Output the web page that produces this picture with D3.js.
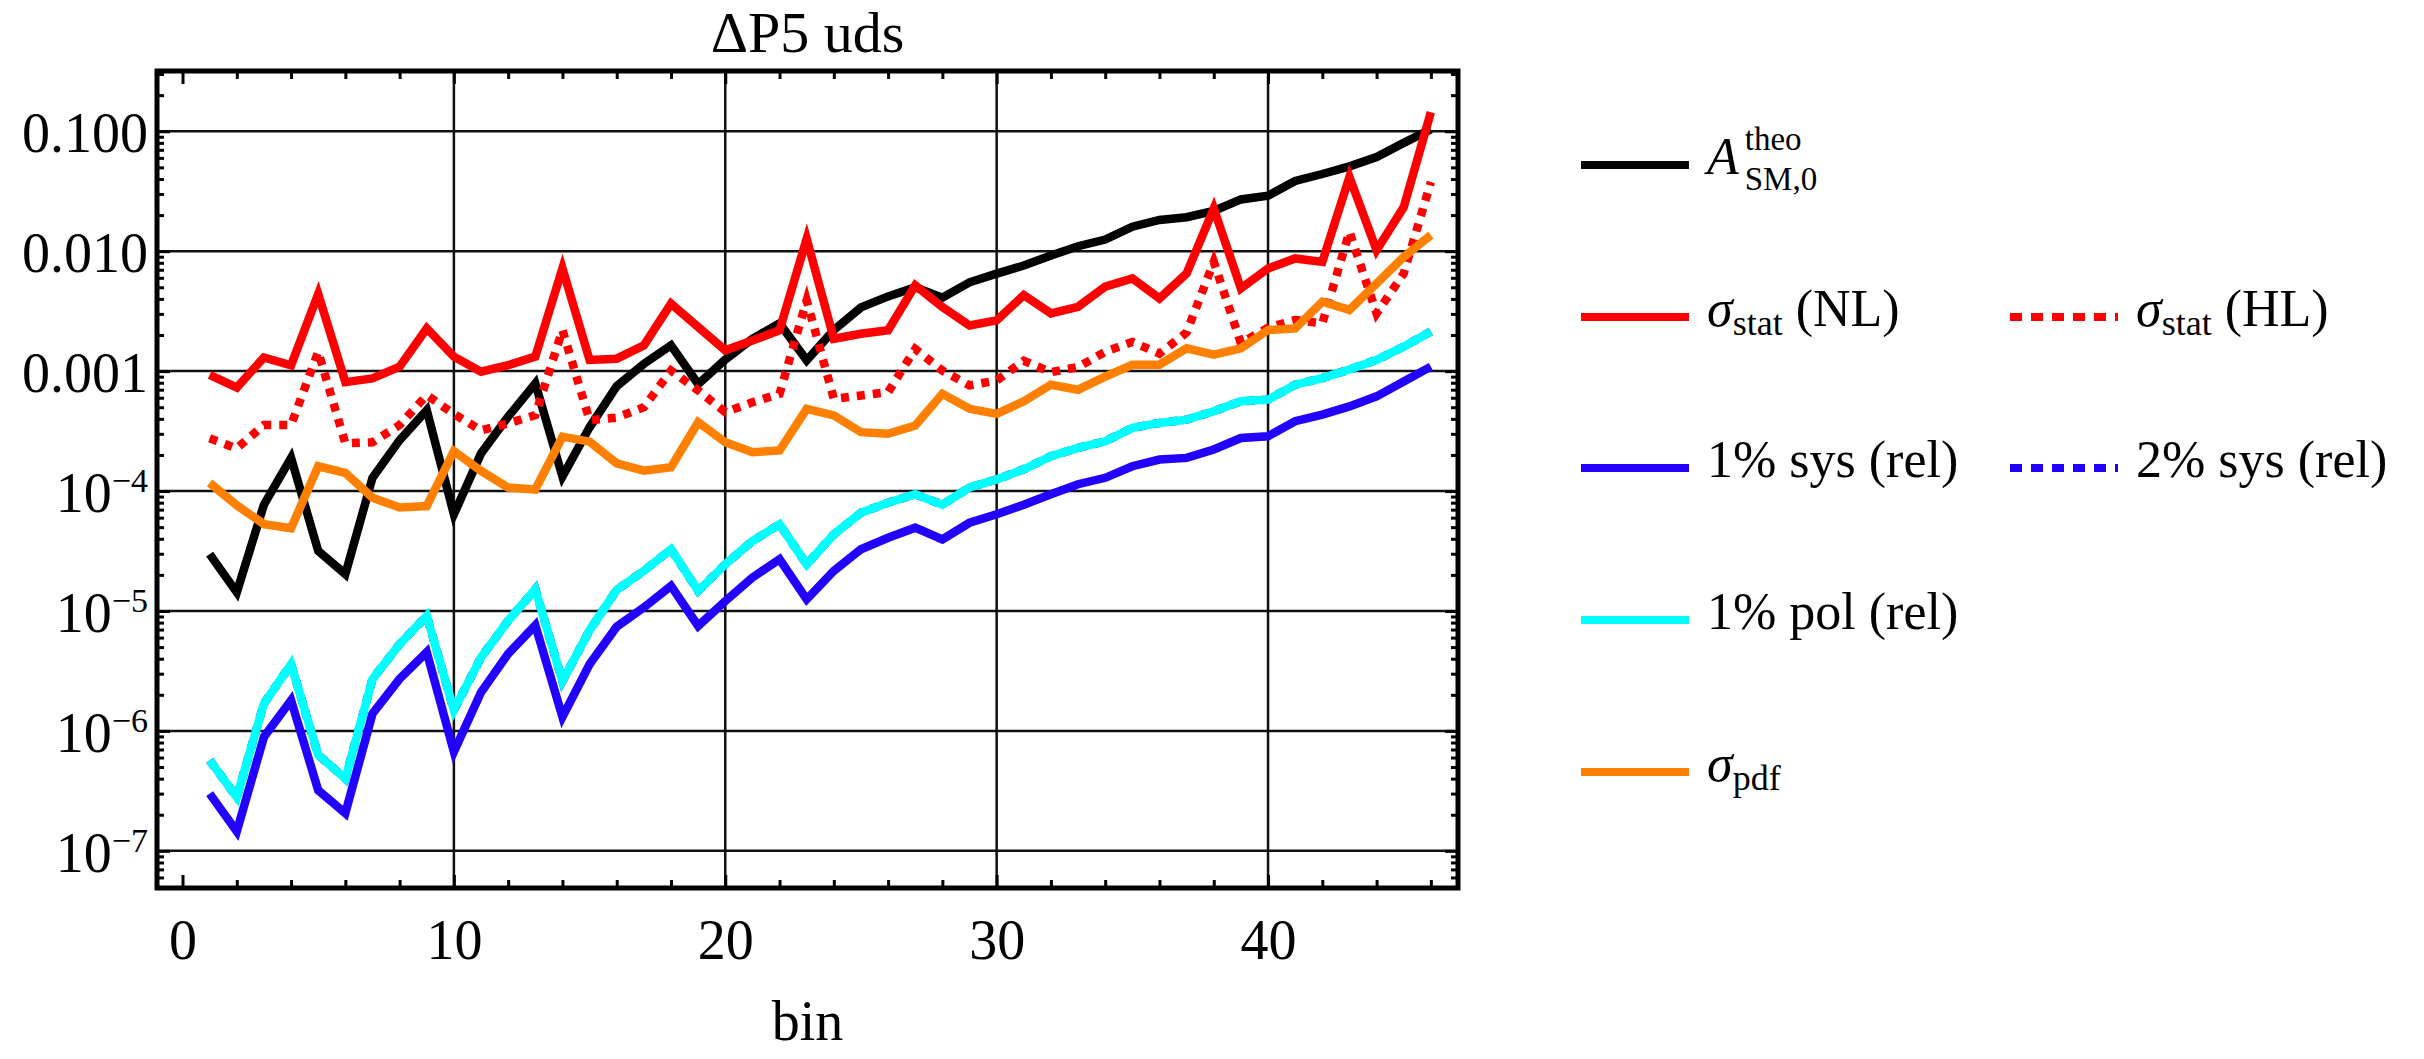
<!DOCTYPE html>
<html>
<head>
<meta charset="utf-8">
<script src="https://cdn.jsdelivr.net/npm/d3@7/dist/d3.min.js"></script>
<style>
  body { margin: 0; background: #fff; }
  svg, text { font-family: "Liberation Serif", "DejaVu Serif", "Times New Roman", serif; fill: #000; }
</style>
</head>
<body>
<script>
////////////
/// DATA ///
////////////

var bins = [1, 2, 3, 4, 5, 6, 7, 8, 9, 10, 11, 12, 13, 14, 15, 16, 17, 18, 19, 20, 21, 22, 23,
            24, 25, 26, 27, 28, 29, 30, 31, 32, 33, 34, 35, 36, 37, 38, 39, 40, 41, 42, 43, 44, 45, 46];

// A^theo_SM,0
var aTheo = [2.98e-5, 1.43e-5, 7.7e-5, 1.89e-4, 3.17e-5, 2.03e-5, 1.29e-4, 2.66e-4, 4.73e-4, 6.4e-5,
             2.06e-4, 4.17e-4, 7.9e-4, 1.32e-4, 3.4e-4, 7.5e-4, 1.15e-3, 1.64e-3, 7.8e-4, 1.25e-3,
             1.86e-3, 2.5e-3, 1.23e-3, 2.2e-3, 3.4e-3, 4.2e-3, 5.0e-3, 4.1e-3, 5.5e-3, 6.5e-3,
             7.6e-3, 9.2e-3, 1.1e-2, 1.25e-2, 1.6e-2, 1.82e-2, 1.92e-2, 2.17e-2, 2.7e-2, 2.9e-2,
             3.85e-2, 4.4e-2, 5.1e-2, 6.1e-2, 8.0e-2, 0.104];

// sigma_stat (NL)
var statNL = [9.3e-4, 7.3e-4, 1.3e-3, 1.12e-3, 4.4e-3, 8.1e-4, 8.7e-4, 1.09e-3, 2.27e-3, 1.32e-3,
              9.9e-4, 1.12e-3, 1.32e-3, 7.2e-3, 1.24e-3, 1.27e-3, 1.64e-3, 3.65e-3, 2.33e-3, 1.49e-3,
              1.8e-3, 2.19e-3, 1.27e-2, 1.86e-3, 2.05e-3, 2.19e-3, 5.19e-3, 3.42e-3, 2.4e-3, 2.65e-3,
              4.3e-3, 3.03e-3, 3.44e-3, 5.06e-3, 5.93e-3, 4.04e-3, 6.52e-3, 2.27e-2, 4.9e-3, 7.18e-3,
              8.7e-3, 8.15e-3, 4.15e-2, 1.02e-2, 2.33e-2, 0.144];

// sigma_stat (HL)
var statHL = [2.75e-4, 2.27e-4, 3.55e-4, 3.55e-4, 1.45e-3, 2.5e-4, 2.55e-4, 3.55e-4, 6.3e-4, 4.4e-4,
              3.2e-4, 3.66e-4, 4.3e-4, 2.2e-3, 3.9e-4, 4.1e-4, 5.0e-4, 1.01e-3, 6.9e-4, 4.55e-4,
              5.5e-4, 6.46e-4, 3.89e-3, 5.87e-4, 6.27e-4, 6.68e-4, 1.53e-3, 1.01e-3, 7.6e-4, 8.35e-4,
              1.22e-3, 9.8e-4, 1.08e-3, 1.45e-3, 1.75e-3, 1.4e-3, 2.1e-3, 8.15e-3, 1.71e-3, 2.3e-3,
              2.67e-3, 2.5e-3, 1.45e-2, 3.03e-3, 6.52e-3, 3.77e-2];

// 1% sys (rel)
var sys1 = [3.0e-7, 1.45e-7, 8.9e-7, 1.8e-6, 3.2e-7, 2.06e-7, 1.39e-6, 2.72e-6, 4.54e-6, 6.7e-7,
            2.1e-6, 4.4e-6, 7.6e-6, 1.31e-6, 3.6e-6, 7.4e-6, 1.07e-5, 1.62e-5, 7.5e-6, 1.21e-5,
            1.9e-5, 2.7e-5, 1.25e-5, 2.16e-5, 3.27e-5, 4.08e-5, 4.95e-5, 3.95e-5, 5.44e-5, 6.4e-5,
            7.7e-5, 9.4e-5, 1.14e-4, 1.29e-4, 1.61e-4, 1.83e-4, 1.89e-4, 2.22e-4, 2.77e-4, 2.86e-4,
            3.82e-4, 4.34e-4, 5.08e-4, 6.16e-4, 8.2e-4, 1.09e-3];

// 1% pol (rel)
var pol1 = [5.7e-7, 2.8e-7, 1.69e-6, 3.6e-6, 6.3e-7, 4.0e-7, 2.7e-6, 5.3e-6, 9.1e-6, 1.49e-6,
            4.1e-6, 8.3e-6, 1.52e-5, 2.6e-6, 6.9e-6, 1.5e-5, 2.16e-5, 3.27e-5, 1.47e-5, 2.45e-5,
            3.83e-5, 5.28e-5, 2.45e-5, 4.35e-5, 6.59e-5, 8.0e-5, 9.4e-5, 7.7e-5, 1.07e-4, 1.25e-4,
            1.52e-4, 1.95e-4, 2.29e-4, 2.6e-4, 3.36e-4, 3.7e-4, 3.94e-4, 4.62e-4, 5.6e-4, 5.78e-4,
            7.7e-4, 8.74e-4, 1.03e-3, 1.24e-3, 1.6e-3, 2.14e-3];

// 2% sys (rel) -- lies exactly under the 1% pol curve
var sys2 = pol1;

// sigma_pdf
var pdf = [1.17e-4, 7.6e-5, 5.3e-5, 4.9e-5, 1.61e-4, 1.42e-4, 8.8e-5, 7.3e-5, 7.5e-5, 2.15e-4,
           1.47e-4, 1.07e-4, 1.03e-4, 2.84e-4, 2.58e-4, 1.7e-4, 1.48e-4, 1.58e-4, 3.75e-4, 2.55e-4,
           2.11e-4, 2.18e-4, 4.85e-4, 4.27e-4, 3.1e-4, 3.0e-4, 3.52e-4, 6.47e-4, 4.85e-4, 4.4e-4,
           5.6e-4, 7.7e-4, 7.0e-4, 9.0e-4, 1.13e-3, 1.13e-3, 1.55e-3, 1.37e-3, 1.55e-3, 2.2e-3,
           2.27e-3, 3.79e-3, 3.24e-3, 5.38e-3, 8.97e-3, 1.36e-2];

// ticks
var xMajorTicks = [0, 10, 20, 30, 40];
var xTickLabels = ["0", "10", "20", "30", "40"];
var yMajorTicks = [1e-7, 1e-6, 1e-5, 1e-4, 1e-3, 1e-2, 1e-1];
var yTickMantissa = ["10", "10", "10", "10", "0.001", "0.010", "0.100"];
var yTickExponent = ["\u22127", "\u22126", "\u22125", "\u22124", "", "", ""];

var titleText = "\u0394P5 uds";
var xLabelText = "bin";

/////////////////
/// SETUP VIZ ///
/////////////////

var W = 2424, H = 1059;
var box = {left: 157, right: 1458, top: 71, bottom: 888};
var serif = "'Liberation Serif', 'DejaVu Serif', serif";

var x = d3.scaleLinear().domain([-0.94, 47.0]).range([box.left, box.right]),
    y = d3.scaleLog().domain([4.9e-8, 0.318]).range([box.bottom, box.top]);

// series order = drawing order
var series = [
  {key: "aTheo",  values: aTheo,  color: "#000000", dash: null},
  {key: "statNL", values: statNL, color: "#ff0000", dash: null},
  {key: "statHL", values: statHL, color: "#ff0000", dash: "8,8"},
  {key: "sys1",   values: sys1,   color: "#2200ff", dash: null},
  {key: "sys2",   values: sys2,   color: "#2200ff", dash: "8,8"},
  {key: "pol1",   values: pol1,   color: "#00ffff", dash: null},
  {key: "pdf",    values: pdf,    color: "#ff8000", dash: null}
];

var svg = d3.select("body")
    .append("svg")
    .attr("width", W)
    .attr("height", H)
    .attr("font-family", serif);

svg.append("defs").append("clipPath")
    .attr("id", "plotClip")
    .append("rect")
    .attr("x", box.left)
    .attr("y", box.top)
    .attr("width", box.right - box.left)
    .attr("height", box.bottom - box.top);

// grid lines
var grid = svg.append("g").attr("id", "grid");

grid.selectAll(".hgrid")
    .data(yMajorTicks)
    .enter().append("line")
    .attr("class", "hgrid")
    .attr("x1", box.left).attr("x2", box.right)
    .attr("y1", function(d) { return y(d); })
    .attr("y2", function(d) { return y(d); })
    .attr("stroke", "#111")
    .attr("stroke-width", 2.5);

grid.selectAll(".vgrid")
    .data(xMajorTicks.filter(function(d) { return d > 0; }))
    .enter().append("line")
    .attr("class", "vgrid")
    .attr("y1", box.top).attr("y2", box.bottom)
    .attr("x1", function(d) { return x(d); })
    .attr("x2", function(d) { return x(d); })
    .attr("stroke", "#111")
    .attr("stroke-width", 2.5);

// lines
var line = d3.line()
    .x(function(d, i) { return x(bins[i]); })
    .y(function(d) { return y(d); });

svg.append("g")
    .attr("clip-path", "url(#plotClip)")
    .selectAll(".series")
    .data(series)
    .enter().append("path")
    .attr("class", "series")
    .attr("fill", "none")
    .attr("stroke", function(d) { return d.color; })
    .attr("stroke-width", 8.5)
    .attr("stroke-dasharray", function(d) { return d.dash; })
    .attr("d", function(d) { return line(d.values); });

// ticks (inward on all four sides)
var xMinor = [];
for (var t = 2; t <= 46; t += 2) { if (t % 10 !== 0) xMinor.push(t); }
var yMinor = [];
for (var e = -8; e <= 0; e++) {
  for (var m = 2; m <= 9; m++) {
    var v = m * Math.pow(10, e);
    if (v > y.domain()[0] && v < y.domain()[1]) yMinor.push(v);
  }
}

function tickGroup(axis, tx, ty) {
  var g = svg.append("g")
      .attr("transform", "translate(" + tx + "," + ty + ")")
      .call(axis)
      .attr("font-family", serif);
  g.select(".domain").remove();
  g.selectAll("line").attr("stroke", "#000").attr("stroke-width", 3);
  return g;
}

tickGroup(d3.axisBottom(x).tickValues(xMinor).tickSize(-8).tickFormat(""), 0, box.bottom);
tickGroup(d3.axisTop(x).tickValues(xMinor).tickSize(-8).tickFormat(""), 0, box.top);
tickGroup(d3.axisTop(x).tickValues(xMajorTicks).tickSize(-13).tickFormat(""), 0, box.top);
tickGroup(d3.axisLeft(y).tickValues(yMinor).tickSize(-7).tickFormat(""), box.left, 0);
tickGroup(d3.axisRight(y).tickValues(yMinor).tickSize(-7).tickFormat(""), box.right, 0);
tickGroup(d3.axisLeft(y).tickValues(yMajorTicks).tickSize(-13).tickFormat(""), box.left, 0);
tickGroup(d3.axisRight(y).tickValues(yMajorTicks).tickSize(-13).tickFormat(""), box.right, 0);

var xAxisG = tickGroup(d3.axisBottom(x).tickValues(xMajorTicks).tickSize(-13)
    .tickFormat(function(d, i) { return xTickLabels[i]; }), 0, box.bottom);
xAxisG.selectAll("text")
    .attr("y", 71)
    .attr("dy", null)
    .style("font-family", serif)
    .style("font-size", "56px")
    .attr("fill", "#000");

// y tick labels with powers of ten
var yLabels = svg.append("g").attr("id", "yLabels");
yMajorTicks.forEach(function(v, i) {
  var txt = yLabels.append("text")
      .attr("x", 148)
      .attr("y", y(v) + 21)
      .attr("text-anchor", "end")
      .style("font-size", "56px");
  txt.append("tspan").text(yTickMantissa[i]);
  if (yTickExponent[i]) {
    txt.append("tspan")
        .attr("dy", -20)
        .style("font-size", "34px")
        .text(yTickExponent[i]);
  }
});

// frame
svg.append("rect")
    .attr("x", box.left)
    .attr("y", box.top)
    .attr("width", box.right - box.left)
    .attr("height", box.bottom - box.top)
    .attr("fill", "none")
    .attr("stroke", "#000")
    .attr("stroke-width", 5);

// title and axis label
svg.append("text")
    .attr("x", (box.left + box.right) / 2)
    .attr("y", 52)
    .attr("text-anchor", "middle")
    .style("font-size", "58px")
    .text(titleText);

svg.append("text")
    .attr("x", (box.left + box.right) / 2)
    .attr("y", 1040)
    .attr("text-anchor", "middle")
    .style("font-size", "56px")
    .text(xLabelText);

//////////////
/// LEGEND ///
//////////////

var legendRows = [165, 317, 468, 620, 772],
    legendCols = [1581, 2010],
    legendLineLen = 108,
    legendGap = 18;

var legendItems = [
  {key: "aTheo",  row: 0, col: 0},
  {key: "statNL", row: 1, col: 0},
  {key: "statHL", row: 1, col: 1},
  {key: "sys1",   row: 2, col: 0},
  {key: "sys2",   row: 2, col: 1},
  {key: "pol1",   row: 3, col: 0},
  {key: "pdf",    row: 4, col: 0}
];

var styleOf = {};
series.forEach(function(s) { styleOf[s.key] = s; });

var legend = svg.append("g").attr("id", "legend");

legendItems.forEach(function(item) {
  var s = styleOf[item.key],
      lx = legendCols[item.col],
      ly = legendRows[item.row],
      tx = lx + legendLineLen + legendGap,
      ty = ly + 9;

  legend.append("line")
      .attr("x1", lx).attr("x2", lx + legendLineLen)
      .attr("y1", ly).attr("y2", ly)
      .attr("stroke", s.color)
      .attr("stroke-width", 8)
      .attr("stroke-dasharray", s.dash ? "12,9" : null);

  if (item.key === "aTheo") {
    // A with stacked super- and subscript
    var a = legend.append("text")
        .attr("x", tx).attr("y", ty)
        .style("font-size", "52px")
        .style("font-style", "italic")
        .text("A");
    var aw = a.node().getComputedTextLength() + 6;
    legend.append("text")
        .attr("x", tx + aw).attr("y", ty - 24)
        .style("font-size", "33px")
        .text("theo");
    legend.append("text")
        .attr("x", tx + aw).attr("y", ty + 16)
        .style("font-size", "33px")
        .text("SM,0");
  } else if (item.key === "statNL" || item.key === "statHL" || item.key === "pdf") {
    var sub = item.key === "pdf" ? "pdf" : "stat",
        rest = item.key === "statNL" ? " (NL)" : (item.key === "statHL" ? " (HL)" : "");
    var t = legend.append("text")
        .attr("x", tx).attr("y", ty)
        .style("font-size", "52px");
    t.append("tspan").style("font-style", "italic").text("\u03c3");
    t.append("tspan").attr("dy", 9).style("font-size", "36px").text(sub);
    if (rest) t.append("tspan").attr("dy", -9).text(rest);
  } else {
    var label = {sys1: "1% sys (rel)", sys2: "2% sys (rel)", pol1: "1% pol (rel)"}[item.key];
    legend.append("text")
        .attr("x", tx).attr("y", ty)
        .style("font-size", "52px")
        .text(label);
  }
});
</script>
</body>
</html>
